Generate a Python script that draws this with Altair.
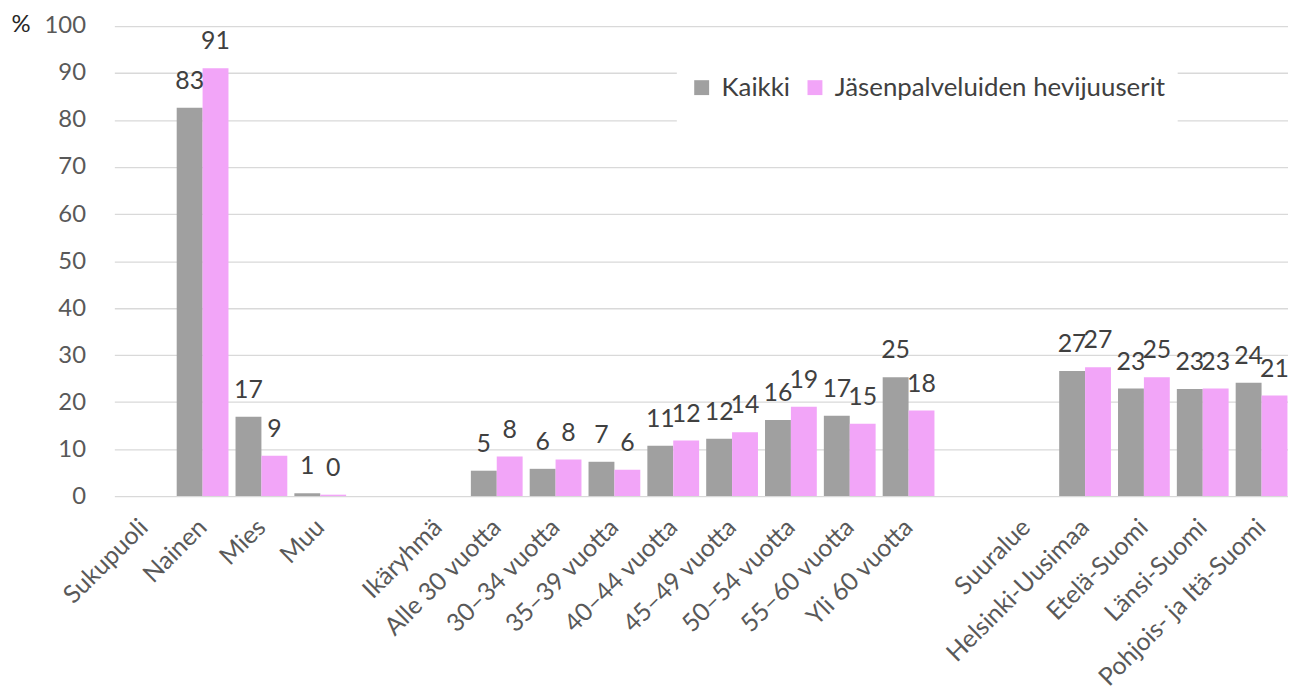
import altair as alt
import pandas as pd

categories = ["Sukupuoli", "Nainen", "Mies", "Muu", " ", "Ikäryhmä",
              "Alle 30 vuotta", "30–34 vuotta", "35–39 vuotta", "40–44 vuotta",
              "45–49 vuotta", "50–54 vuotta", "55–60 vuotta", "Yli 60 vuotta", "  ",
              "Suuralue", "Helsinki-Uusimaa", "Etelä-Suomi", "Länsi-Suomi",
              "Pohjois- ja Itä-Suomi"]
groups = ["Nainen", "Mies", "Muu",
          "Alle 30 vuotta", "30–34 vuotta", "35–39 vuotta", "40–44 vuotta",
          "45–49 vuotta", "50–54 vuotta", "55–60 vuotta", "Yli 60 vuotta",
          "Helsinki-Uusimaa", "Etelä-Suomi", "Länsi-Suomi", "Pohjois- ja Itä-Suomi"]
kaikki = [82.6, 16.9, 0.6, 5.4, 5.8, 7.3, 10.7, 12.2, 16.2, 17.1, 25.3, 26.6, 22.9, 22.8, 24.1]
hevi = [91.0, 8.6, 0.3, 8.4, 7.8, 5.6, 11.8, 13.6, 19.0, 15.4, 18.2, 27.4, 25.3, 22.9, 21.4]
series = ["Kaikki", "Jäsenpalveluiden hevijuuserit"]
colors = ["#A0A0A0", "#F2A5F8"]
y_ticks = list(range(0, 101, 10))

rows = []
for g, a, b in zip(groups, kaikki, hevi):
    rows.append({"category": g, "series": series[0], "value": a})
    rows.append({"category": g, "series": series[1], "value": b})
df = pd.DataFrame(rows)

FONT = "Lato"

x_enc = alt.X(
    "category:N", sort=categories,
    scale=alt.Scale(domain=categories, range=[0, 1184], paddingInner=0.12, paddingOuter=0.06),
    axis=alt.Axis(title=None, labelAngle=-45, labelAlign="right", labelBaseline="middle",
                  labelFont=FONT, labelFontSize=25, labelColor="#595959",
                  labelPadding=27, labelLimit=400, labelOverlap=False,
                  ticks=False, tickSize=0, domain=False, grid=False),
)
xo_enc = alt.XOffset("series:N", sort=series,
                     scale=alt.Scale(domain=series, paddingInner=0, paddingOuter=0))
y_enc = alt.Y(
    "value:Q", scale=alt.Scale(domain=[0, 100], nice=False),
    axis=alt.Axis(values=y_ticks, title="%", titleAngle=0, titleX=-104, titleY=-1,
                  titleAlign="left", titleBaseline="middle", titleFont=FONT,
                  titleFontSize=24, titleFontWeight="normal", titleColor="#262626",
                  labelFont=FONT, labelFontSize=24, labelColor="#595959",
                  labelPadding=29, ticks=False, tickSize=0, domain=False,
                  grid=True, gridColor="#D9D9D9", gridWidth=1.3),
)

bars = alt.Chart(df).mark_bar().encode(
    x=x_enc, xOffset=xo_enc, y=y_enc,
    color=alt.Color("series:N", sort=series,
                    scale=alt.Scale(domain=series, range=colors),
                    legend=alt.Legend(orient="none", legendX=566, legendY=37,
                                      direction="horizontal", columns=2,
                                      title=" ", titleOrient="bottom", titleFontSize=20,
                                      titlePadding=0, fillColor="white", padding=12,
                                      symbolType="square", symbolSize=225,
                                      symbolStrokeWidth=0, labelFont=FONT,
                                      labelFontSize=26, labelColor="#404040",
                                      labelLimit=600,
                                      labelOffset=7, columnPadding=12)),
)

labels = alt.Chart(df).mark_text(baseline="alphabetic", dy=-19, font=FONT,
                                 fontSize=25, color="#404040").encode(
    x=x_enc, xOffset=xo_enc, y=y_enc,
    text=alt.Text("value:Q", format=".0f"),
)

chart = alt.layer(bars, labels).properties(
    width=1181, height=473,
    padding={"left": 107, "top": 16, "right": 0, "bottom": 195},
    autosize=alt.AutoSizeParams(type="none"),
).configure_view(stroke=None)

chart.save("out.html", embed_options={"renderer": "svg", "actions": False})
